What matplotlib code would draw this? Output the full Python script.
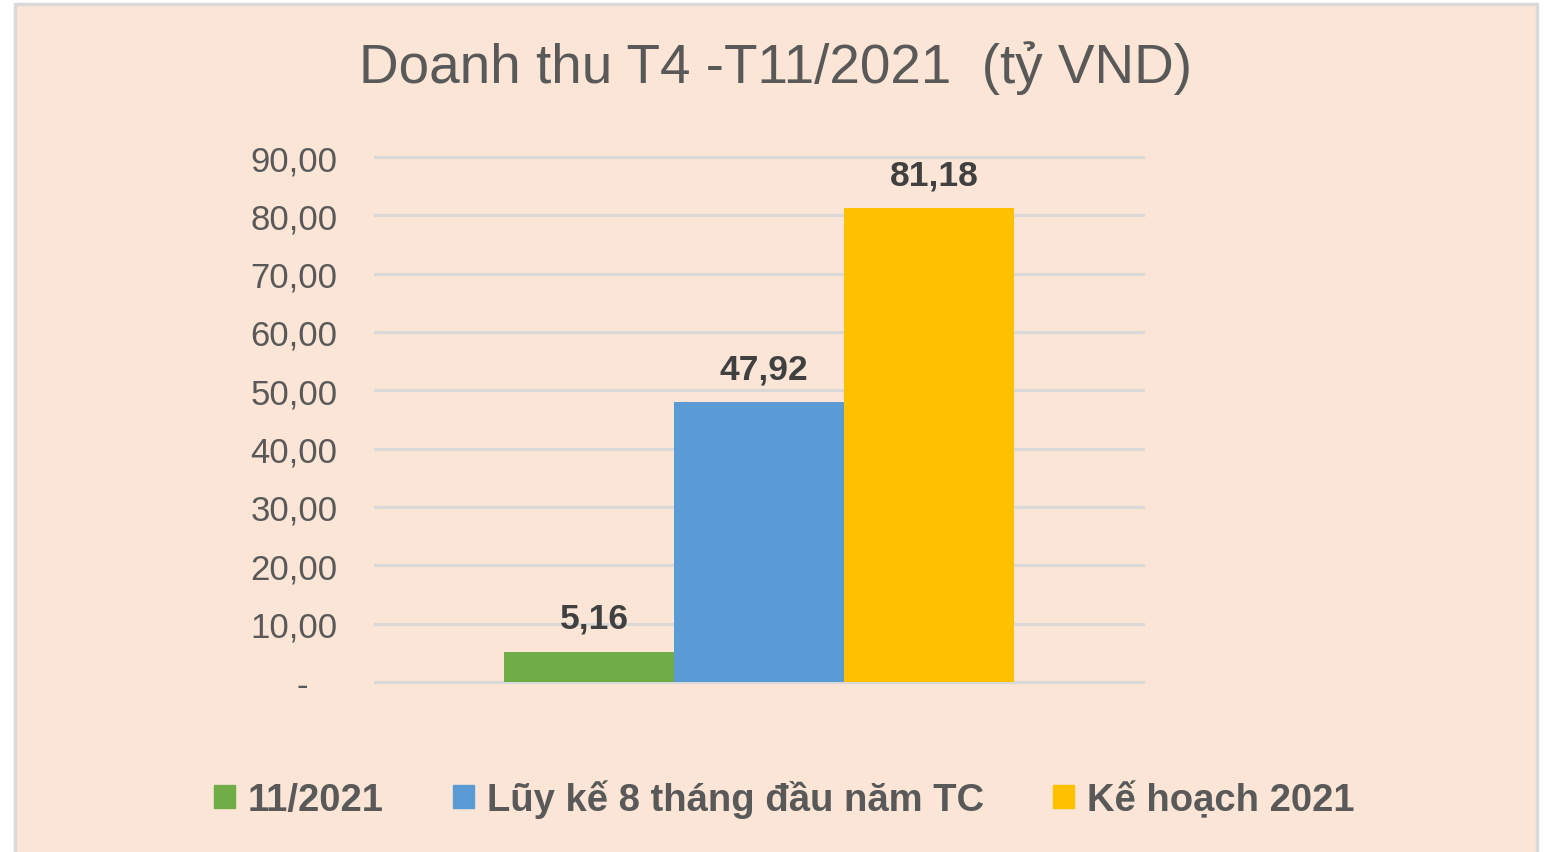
import matplotlib
matplotlib.use("Agg")
import matplotlib.pyplot as plt
from matplotlib.patches import Rectangle, Patch

plt.rcParams['font.family'] = ['Liberation Sans', 'DejaVu Sans']

# Data
series = ["11/2021", "Lũy kế 8 tháng đầu năm TC", "Kế hoạch 2021"]
values = [5.16, 47.92, 81.18]
labels = ["5,16", "47,92", "81,18"]
colors = ["#70AD47", "#5B9BD5", "#FFC000"]
yticks = [0, 10, 20, 30, 40, 50, 60, 70, 80, 90]
ytick_labels = ["-   "] + [f"{v},00" for v in yticks[1:]]

bg = "#FBE5D6"
txt = "#595959"

fig = plt.figure(figsize=(15.47, 8.53), dpi=100)
fig.patch.set_facecolor("white")
fig.patches.append(Rectangle((15 / 1547, -0.01), 1522 / 1547, 1 - 5 / 853 + 0.01,
                             transform=fig.transFigure, facecolor=bg,
                             edgecolor="#D9D9D9", linewidth=2.5, zorder=-5))

ax = fig.add_axes([375 / 1547, 1 - 683 / 853, 768 / 1547, 525 / 853])
ax.set_facecolor("none")
ax.set_zorder(2)

xs = [-1, 0, 1]
for x, v, c, lab in zip(xs, values, colors, labels):
    ax.bar(x, v, width=1.0, color=c, zorder=3)
    ax.text(x + 0.03, v + 2.9, lab, ha="center", va="bottom", fontsize=25.5,
            fontweight="bold", color="#404040")

ax.set_xlim(-2.26, 2.26)
ax.set_ylim(0, 90)
ax.set_yticks(yticks)
ax.set_yticklabels(ytick_labels)
ax.set_xticks([])
ax.tick_params(axis="y", length=0, pad=27, labelsize=25, labelcolor=txt)
ax.grid(axis="y", color="#D9D9D9", linewidth=2.2, zorder=0)
for gl in ax.get_ygridlines():
    gl.set_clip_on(False)
ax.set_axisbelow(True)
for s in ax.spines.values():
    s.set_visible(False)

fig.text(0.501, 1 - 68 / 853, "Doanh thu T4 -T11/2021  (tỷ VND)", ha="center",
         va="center", fontsize=39.5, color=txt)

handles = [Patch(facecolor=c, edgecolor=c) for c in colors]
fig.legend(handles, series, loc="center", bbox_to_anchor=(0.507, 1 - 800 / 853),
           ncol=3, frameon=False, prop={"size": 27.5, "weight": "bold"},
           labelcolor=txt, handlelength=0.55, handleheight=0.55,
           handletextpad=0.35, columnspacing=1.8)

fig.savefig("out.png", dpi=100, facecolor=fig.get_facecolor())
